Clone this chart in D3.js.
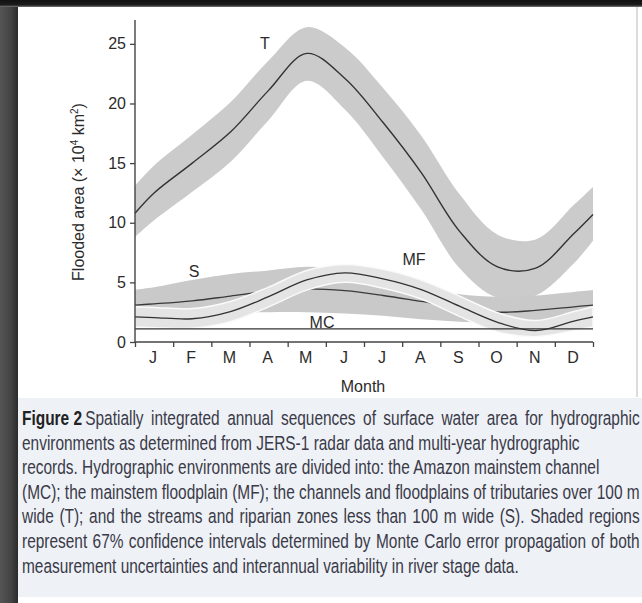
<!DOCTYPE html>
<html>
<head>
<meta charset="utf-8">
<script src="https://cdn.jsdelivr.net/npm/d3@7"></script>
<style>
  html, body { margin: 0; padding: 0; background: #3a3a3a; }
  svg { display: block; }
</style>
</head>
<body>
<svg id="fig"></svg>
<script>
const width = 642;
const height = 603;

// month labels and sample positions (in months from 1 Jan)
const months = ["J", "F", "M", "A", "M", "J", "J", "A", "S", "O", "N", "D"];
const monthPos = [0, 0.5, 1.5, 2.5, 3.5, 4.5, 5.5, 6.5, 7.5, 8.5, 9.5, 10.5, 11.5, 12];
const yTicks = [0, 5, 10, 15, 20, 25];

// flooded area, x 10^4 km2
const tLine  = [10.8, 12.5, 15.0, 17.6, 21.1, 24.2, 22.1, 18.4, 14.2, 9.3, 6.3, 6.2, 9.1, 10.7];
const tUpper = [13.1, 14.8, 17.4, 20.1, 23.6, 26.4, 24.7, 21.3, 17.3, 12.4, 9.0, 8.6, 11.5, 13.0];
const tLower = [8.8, 10.2, 12.6, 15.1, 18.6, 21.9, 19.5, 15.5, 11.1, 6.2, 3.7, 3.9, 6.6, 8.5];

const sLine  = [3.1, 3.2, 3.45, 3.85, 4.25, 4.45, 4.3, 3.9, 3.4, 2.9, 2.5, 2.65, 2.95, 3.1];
const sUpper = [4.4, 4.6, 5.2, 5.7, 6.0, 6.3, 6.1, 5.4, 4.6, 4.0, 3.8, 3.9, 4.2, 4.35];
const sLower = [2.2, 2.2, 2.3, 2.45, 2.5, 2.5, 2.4, 2.2, 1.9, 1.7, 1.6, 1.7, 2.1, 2.2];

const mfLine  = [2.1, 2.05, 1.95, 2.55, 3.8, 5.2, 5.8, 5.3, 4.4, 3.0, 1.65, 0.95, 1.75, 2.1];
const mfUpper = [2.95, 2.9, 2.8, 3.4, 4.6, 6.0, 6.5, 6.1, 5.2, 3.85, 2.45, 1.8, 2.55, 2.95];
const mfLower = [1.25, 1.2, 1.15, 1.7, 2.95, 4.35, 5.0, 4.5, 3.6, 2.15, 0.85, 0.45, 0.95, 1.25];

const mcLine = [1.1, 1.1, 1.1, 1.1, 1.1, 1.1, 1.1, 1.1, 1.1, 1.1, 1.1, 1.1, 1.1, 1.1];

// caption lines: [bold lead, text, justified?]
const caption = [
    ["Figure 2", "Spatially integrated annual sequences of surface water area for hydrographic", true],
    ["", "environments as determined from JERS-1 radar data and multi-year hydrographic", false],
    ["", "records. Hydrographic environments are divided into: the Amazon mainstem channel", false],
    ["", "(MC); the mainstem floodplain (MF); the channels and floodplains of tributaries over 100 m", true],
    ["", "wide (T); and the streams and riparian zones less than 100 m wide (S). Shaded regions", true],
    ["", "represent 67% confidence intervals determined by Monte Carlo error propagation of both", true],
    ["", "measurement uncertainties and interannual variability in river stage data.", false]
];

const svg = d3.select("#fig").attr("width", width).attr("height", height);

// ---- frame around the figure
const defs = svg.append("defs");
const topGrad = defs.append("linearGradient").attr("id", "topbar")
    .attr("x1", 0).attr("y1", 0).attr("x2", 0).attr("y2", 1);
topGrad.append("stop").attr("offset", "0%").attr("stop-color", "#111");
topGrad.append("stop").attr("offset", "70%").attr("stop-color", "#1c1c1c");
topGrad.append("stop").attr("offset", "100%").attr("stop-color", "#777");
const leftGrad = defs.append("linearGradient").attr("id", "leftbar")
    .attr("x1", 0).attr("y1", 0).attr("x2", 1).attr("y2", 0);
leftGrad.append("stop").attr("offset", "0%").attr("stop-color", "#555");
leftGrad.append("stop").attr("offset", "60%").attr("stop-color", "#444");
leftGrad.append("stop").attr("offset", "100%").attr("stop-color", "#2b2b2b");

svg.append("rect").attr("width", width).attr("height", height).attr("fill", "#ffffff");
svg.append("rect").attr("x", 0).attr("y", 0).attr("width", 18).attr("height", height).attr("fill", "url(#leftbar)");
svg.append("rect").attr("x", 0).attr("y", 0).attr("width", width).attr("height", 7).attr("fill", "url(#topbar)");
svg.append("line").attr("x1", 637).attr("x2", 637).attr("y1", 7).attr("y2", 397)
    .attr("stroke", "#d0d0d0").attr("stroke-width", 1.5);

// caption box
svg.append("rect").attr("x", 18).attr("y", 398).attr("width", width - 18).attr("height", 199)
    .attr("fill", "#eef1f6");

// ---- chart
const x = d3.scaleLinear().domain([0, 12]).range([135, 593]);
const y = d3.scaleLinear().domain([0, 27]).range([342, 20]);
const curve = d3.curveCatmullRom.alpha(0.5);

function band(upper, lower) {
    return d3.area()
        .x((d, i) => x(monthPos[i]))
        .y0((d, i) => y(lower[i]))
        .y1((d, i) => y(upper[i]))
        .curve(curve)(monthPos);
}
const line = d3.line()
    .x((d, i) => x(monthPos[i]))
    .y(d => y(d))
    .curve(curve);

const plot = svg.append("g");

plot.append("path").attr("d", band(tUpper, tLower)).attr("fill", "#cbcbcb");
plot.append("path").attr("d", band(sUpper, sLower)).attr("fill", "#c9c9c9");
plot.append("path").attr("d", line(sLine)).attr("fill", "none")
    .attr("stroke", "#3a3a3a").attr("stroke-width", 1.3);
plot.append("path").attr("d", band(mfUpper, mfLower)).attr("fill", "#e4e4e4")
    .attr("stroke", "#fafafa").attr("stroke-width", 1.5);
plot.append("path").attr("d", line(mfLine)).attr("fill", "none")
    .attr("stroke", "#333").attr("stroke-width", 1.3);
plot.append("path").attr("d", line(tLine)).attr("fill", "none")
    .attr("stroke", "#333").attr("stroke-width", 1.4);
plot.append("path").attr("d", line(mcLine)).attr("fill", "none")
    .attr("stroke", "#333").attr("stroke-width", 1.4);

// axes
const font = "'Liberation Sans', Arial, Helvetica, sans-serif";
const ink = "#2b2b2b";
const xAxis = svg.append("g").attr("transform", "translate(0,342)")
    .call(d3.axisBottom(x).tickValues(d3.range(0, 13)).tickSize(5).tickFormat(""));
const yAxis = svg.append("g").attr("transform", "translate(135,0)")
    .call(d3.axisLeft(y).tickValues(yTicks).tickSize(5).tickPadding(4));
[xAxis, yAxis].forEach(a => {
    a.select(".domain").attr("stroke", "#444").attr("stroke-width", 1.4);
    a.selectAll(".tick line").attr("stroke", "#444").attr("stroke-width", 1.3);
});
xAxis.select(".domain").attr("d", "M135,0H593");
yAxis.select(".domain").attr("d", "M0,342V20");
yAxis.selectAll(".tick text").attr("font-family", font).attr("font-size", 16).attr("fill", ink);

svg.append("g").selectAll("text").data(months).join("text")
    .attr("x", (d, i) => x(i + 0.5) - 1)
    .attr("y", 363)
    .attr("text-anchor", "middle")
    .attr("font-family", font).attr("font-size", 16).attr("fill", ink)
    .text(d => d);

svg.append("text").attr("x", 363).attr("y", 392).attr("text-anchor", "middle")
    .attr("font-family", font).attr("font-size", 16).attr("fill", ink).text("Month");

const yl = svg.append("text")
    .attr("transform", "translate(84,192) rotate(-90)")
    .attr("text-anchor", "middle")
    .attr("font-family", font).attr("font-size", 16).attr("fill", ink);
yl.append("tspan").text("Flooded area (\u00d7 10");
yl.append("tspan").attr("font-size", 10).attr("dy", -6).text("4");
yl.append("tspan").attr("dy", 6).text(" km");
yl.append("tspan").attr("font-size", 10).attr("dy", -6).text("2");
yl.append("tspan").attr("dy", 6).text(")");

// series labels
const labels = [["T", 265, 49], ["S", 194, 277], ["MF", 414, 265], ["MC", 322, 328]];
svg.append("g").selectAll("text").data(labels).join("text")
    .attr("x", d => d[1]).attr("y", d => d[2])
    .attr("text-anchor", "middle")
    .attr("font-family", font).attr("font-size", 16).attr("fill", ink)
    .text(d => d[0]);

// caption text: condensed by a horizontal squeeze, justified by word spacing
const capX = 22, capRight = 640, capSize = 19.5;
const cap = svg.append("g").attr("font-family", font).attr("font-size", capSize).attr("fill", "#3a3a48");
const probe = cap.append("text");
const widths = caption.map(c => {
    probe.attr("font-weight", "bold").text(c[0] ? c[0] + " " : "");
    const wb = c[0] ? probe.node().getComputedTextLength() : 0;
    probe.attr("font-weight", null).text(c[1]);
    return [wb, probe.node().getComputedTextLength()];
});
probe.remove();
const sx = d3.min(caption.filter(c => c[2]), c => {
    const w = widths[caption.indexOf(c)];
    return (capRight - capX) / (w[0] + w[1]);
});
caption.forEach((c, i) => {
    const [wb, wr] = widths[i];
    const spaces = c[1].split(" ").length - 1 + (c[0] ? 1 : 0);
    const ws = c[2] ? ((capRight - capX) / sx - wb - wr) / spaces : 0;
    const row = cap.append("g")
        .attr("transform", `translate(${capX},${425 + i * 24.6}) scale(${sx},1)`);
    if (c[0]) {
        row.append("text").attr("font-weight", "bold").attr("fill", "#222").text(c[0]);
    }
    row.append("text").attr("x", c[0] ? wb + ws : 0)
        .attr("word-spacing", ws)
        .text(c[1]);
});
</script>
</body>
</html>
